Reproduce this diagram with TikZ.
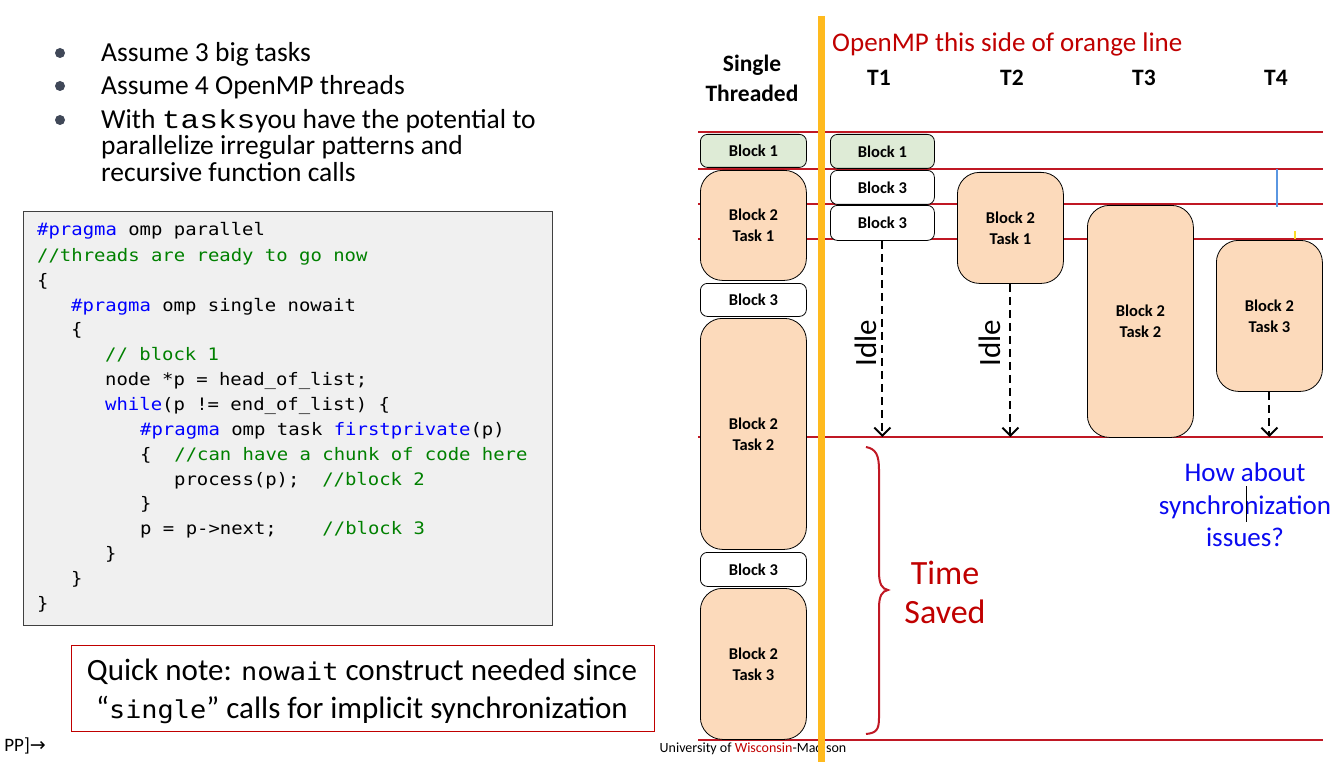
\documentclass[tikz,border=0pt]{standalone}
\usepackage{fontspec}
\setmainfont{Carlito}
\newfontfamily\codefont[FakeStretch=1.1]{DejaVu Sans Mono}
\newfontfamily\cmono[FakeStretch=1.2]{Liberation Mono}
\newfontfamily\djv{DejaVu Sans}
\usetikzlibrary{arrows.meta}
\definecolor{lred}{RGB}{192,24,36}
\definecolor{orangel}{RGB}{255,186,30}
\definecolor{gfill}{RGB}{222,235,214}
\definecolor{pfill}{RGB}{252,218,187}
\definecolor{codebg}{RGB}{240,240,240}
\definecolor{codeblue}{RGB}{0,0,255}
\definecolor{codegreen}{RGB}{0,128,0}
\definecolor{dred}{RGB}{192,0,0}
\definecolor{bulletc}{RGB}{64,72,88}
\definecolor{qblue}{RGB}{10,10,240}
\newlength\cw
\setlength\cw{11.4pt}
\newcommand\sk[1]{\hspace*{#1\cw}}
\newcommand\blkfont{\bfseries\fontsize{16.5}{21}\selectfont}
\tikzset{
  redline/.style={draw=lred, line width=2pt},
  blk/.style={draw=black, line width=0.8pt, font=\blkfont, align=center, inner sep=0pt, anchor=north west},
  smallbox/.style={blk, rounded corners=7pt, fill=white},
  greenbox/.style={smallbox, fill=gfill},
  bigbox/.style={blk, rounded corners=22pt, fill=pfill},
  idlearrow/.style={draw=black, line width=2pt, dash pattern=on 8pt off 5pt, -{Straight Barb[length=8pt,width=16pt,line width=2pt]}},
  codeline/.style={anchor=base west, inner sep=0pt, font=\codefont\fontsize{17.2}{20}\selectfont},
  bullettext/.style={anchor=base west, inner sep=0pt, font=\fontsize{27.5}{30}\selectfont},
  header/.style={font=\bfseries\fontsize{23.5}{30}\selectfont, align=center, inner sep=0pt},
  idletext/.style={font=\fontsize{31}{32}\selectfont, rotate=90, inner sep=0pt},
}
\begin{document}
\begin{tikzpicture}[x=1pt,y=-1pt]
\useasboundingbox (0,0) rectangle (1333,762);
% bullets
\foreach \yy in {53,86,120}{\fill[bulletc] (60,\yy) circle (5);}
\node[bullettext] (bt1) at (101,62) {Assume 3 big tasks};
\node[bullettext] (bt2) at (101,95) {Assume 4 OpenMP threads};
\node[bullettext] (bt3) at (101,129) {With {\cmono\fontsize{26}{30}\selectfont tasks}you have the potential to};
\node[bullettext] (bt4) at (101,155) {parallelize irregular patterns and};
\node[bullettext] (bt5) at (101,182) {recursive function calls};
% code box
\node[draw=black!75, line width=1pt, fill=codebg, anchor=north west, minimum width=529pt, minimum height=414pt, inner sep=0pt] (code) at (23,211) {};
\node[codeline] (c1) at (37,236) {{\color{codeblue}\#pragma} omp parallel};
\node[codeline] (c2) at (37,261) {\color{codegreen}//threads are ready to go now};
\node[codeline] (c3) at (37,286) {\{};
\node[codeline] (c4) at (71,311) {{\color{codeblue}\#pragma} omp single nowait};
\node[codeline] (c5) at (71,335) {\{};
\node[codeline] (c6) at (105,360) {\color{codegreen}// block 1};
\node[codeline] (c7) at (105,385) {node *p = head\_of\_list;};
\node[codeline] (c8) at (105,410) {{\color{codeblue}while}(p != end\_of\_list) \{};
\node[codeline] (c9) at (140,435) {{\color{codeblue}\#pragma} omp task {\color{codeblue}firstprivate}(p)};
\node[codeline] (c10) at (140,460) {\{\sk{2}{\color{codegreen}//can have a chunk of code here}};
\node[codeline] (c11) at (174,485) {process(p);\sk{2}{\color{codegreen}//block 2}};
\node[codeline] (c12) at (140,509) {\}};
\node[codeline] (c13) at (140,534) {p = p->next;\sk{4}{\color{codegreen}//block 3}};
\node[codeline] (c14) at (105,559) {\}};
\node[codeline] (c15) at (71,584) {\}};
\node[codeline] (c16) at (37,609) {\}};
% quick note
\node[draw=dred, line width=1.2pt, fill=white, anchor=north west, minimum width=583pt, minimum height=86pt, inner sep=0pt] (qbox) at (71,645) {};
\node[font=\fontsize{31}{38}\selectfont, align=center, inner sep=0pt] (qtext) at (362,691)
 {Quick note: {\codefont\fontsize{24.5}{30}\selectfont nowait} construct needed since\\“{\codefont\fontsize{24.5}{30}\selectfont single}” calls for implicit synchronization};
\node[anchor=east, inner sep=0pt, font=\fontsize{19}{20}\selectfont] (pp) at (46,746) {PP]{\djv →}};
% footer
\node[inner sep=0pt, font=\fontsize{14}{15}\selectfont] (uw) at (753,749) {University of {\color{dred}Wisconsin}-Madison};
% timeline lines
\coordinate (l1) at (698,132);
\coordinate (l5) at (698,437);
\foreach \yy in {132,169,204,239,437,740}{\draw[redline] (698,\yy) -- (1323,\yy);}
% headers
\node[header] (hs) at (752,78) {Single\\Threaded};
\node[header] (h1) at (879,78) {T1};
\node[header] (h2) at (1012,78) {T2};
\node[header] (h3) at (1144,78) {T3};
\node[header] (h4) at (1276,78) {T4};
\node[anchor=west, inner sep=0pt, text=dred, font=\fontsize{27}{30}\selectfont] (omp) at (832,44) {OpenMP this side of orange line};
% single-threaded column
\node[greenbox, minimum width=106pt, minimum height=33pt] (s1) at (700,134) {Block 1};
\node[bigbox, minimum width=106pt, minimum height=110pt] (s2) at (700,170) {Block 2\\Task 1};
\node[smallbox, minimum width=106pt, minimum height=33pt] (s3) at (700,283) {Block 3};
\node[bigbox, minimum width=106pt, minimum height=231pt] (s4) at (700,318) {Block 2\\Task 2};
\node[smallbox, minimum width=106pt, minimum height=34pt] (s5) at (700,552) {Block 3};
\node[bigbox, minimum width=106pt, minimum height=151pt] (s6) at (700,588) {Block 2\\Task 3};
% T1
\node[greenbox, minimum width=104pt, minimum height=34pt] (t1a) at (830,134) {Block 1};
\node[smallbox, minimum width=104pt, minimum height=34pt] (t1b) at (830,170) {Block 3};
\node[smallbox, minimum width=104pt, minimum height=35pt] (t1c) at (830,205) {Block 3};
% T2..T4
\node[bigbox, minimum width=106pt, minimum height=111pt] (t2a) at (957,172) {Block 2\\Task 1};
\node[bigbox, minimum width=106pt, minimum height=232pt] (t3a) at (1087,205) {Block 2\\Task 2};
\node[bigbox, minimum width=106pt, minimum height=151pt] (t4a) at (1216,240) {Block 2\\Task 3};
% idle arrows
\draw[idlearrow] (t1c.south) -- (t1c.south |- l5);
\draw[idlearrow] (t2a.south) -- (t2a.south |- l5);
\draw[idlearrow] (t4a.south) -- (t4a.south |- l5);
\node[idletext] (i1) at (866,343) {Idle};
\node[idletext] (i2) at (990,343) {Idle};
% small marks
\draw[draw={rgb,255:red,90;green,150;blue,225}, line width=1.2pt] (1277,169) -- (1277,207);
\draw[draw={rgb,255:red,250;green,220;blue,40}, line width=1.2pt] (1295,231) -- (1295,239);
% brace
\draw[lred, line width=2pt] (866,447) .. controls (876,449) and (879,455) .. (879,470) -- (879,572) .. controls (879,584) and (882,589) .. (888,590) .. controls (882,591) and (879,596) .. (879,608) -- (879,718) .. controls (879,730) and (876,733) .. (866,734);
\node[text=dred, align=center, inner sep=0pt, font=\fontsize{34}{39}\selectfont] (ts) at (945,592) {Time\\Saved};
\node[text=qblue, align=center, inner sep=0pt, font=\fontsize{27}{32.5}\selectfont] (hw) at (1245,505) {How about\\synchronization\\issues?};
\draw[black, line width=0.8pt] (1246,486) -- (1246,522);
% orange line
\draw[orangel, line width=7pt] (821,16) -- (821,762);
\end{tikzpicture}
\end{document}
